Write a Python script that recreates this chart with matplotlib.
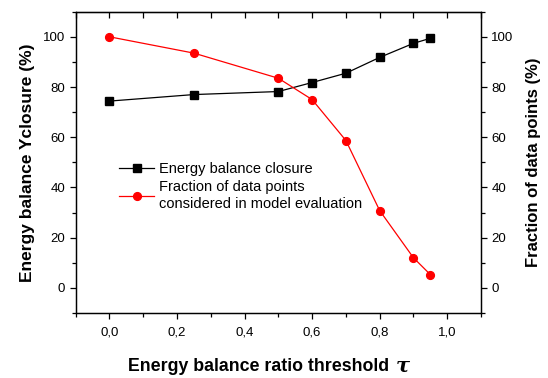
import matplotlib
matplotlib.use("Agg")
import matplotlib.pyplot as plt
from matplotlib.ticker import MultipleLocator, FuncFormatter
from matplotlib.lines import Line2D

plt.rcParams['font.family'] = ['Liberation Sans', 'DejaVu Sans']

thresholds = [0.0, 0.25, 0.5, 0.6, 0.7, 0.8, 0.9, 0.95]
closure = [74.4, 77.0, 78.2, 81.8, 85.5, 91.8, 97.4, 99.4]
fraction = [100.0, 93.5, 83.5, 75.0, 58.7, 30.8, 12.0, 5.3]

label_closure = "Energy balance closure"
label_fraction = "Fraction of data points\nconsidered in model evaluation"
xlabel = "Energy balance ratio threshold"
xlabel_symbol = "τ"
ylabel_left = "Energy balance Yclosure (%)"
ylabel_right = "Fraction of data points (%)"

W, H = 548, 378
fig = plt.figure(figsize=(W / 100, H / 100), dpi=100)
left, right, top, bottom = 75.7, 481, 11.7, 313
ax = fig.add_axes([left / W, 1 - bottom / H, (right - left) / W, (bottom - top) / H])
ax2 = ax.twinx()

ax.plot(thresholds, closure, color='black', marker='s', markersize=5.2, lw=0.9, zorder=3)
ax2.plot(thresholds, fraction, color='red', marker='o', markersize=5.6, lw=0.9, zorder=3)

for a in (ax, ax2):
    a.set_xlim(-0.1, 1.1)
    a.set_ylim(-10, 110)
    a.yaxis.set_major_locator(MultipleLocator(20))
    a.yaxis.set_minor_locator(MultipleLocator(10))
    for s in a.spines.values():
        s.set_linewidth(0.9)

ax.xaxis.set_major_locator(MultipleLocator(0.2))
ax.xaxis.set_minor_locator(MultipleLocator(0.1))
ax.xaxis.set_major_formatter(FuncFormatter(lambda v, p: f"{v:.1f}".replace('.', ',').replace('-0,0', '0,0')))

ax.tick_params(axis='x', which='both', direction='out', top=False, width=0.9, labelsize=9.5, pad=6)
ax.tick_params(axis='x', which='major', length=4)
ax.tick_params(axis='x', which='minor', length=3)
ax.tick_params(axis='y', which='both', direction='out', width=0.9, labelsize=9.5, right=False)
ax.tick_params(axis='y', which='major', length=4)
ax.tick_params(axis='y', which='minor', length=3)
ax2.tick_params(axis='y', which='both', direction='out', width=0.9, labelsize=9.5, left=False)
ax2.tick_params(axis='y', which='major', length=4)
ax2.tick_params(axis='y', which='minor', length=3)

# inward ticks along the top
axt = ax.secondary_xaxis('top')
axt.xaxis.set_major_locator(MultipleLocator(0.1))
axt.tick_params(axis='x', direction='in', length=4, width=0.9, labeltop=False)

ax.set_xlabel(xlabel, fontsize=12.8, fontweight='bold', labelpad=14)
ax.xaxis.label.set_x(0.45)
ax.annotate(xlabel_symbol, xy=(1, 0), xycoords=ax.xaxis.label,
            xytext=(5, 0), textcoords='offset points', ha='left', va='bottom',
            fontfamily='DejaVu Serif', fontstyle='italic', fontweight='bold',
            fontsize=15, annotation_clip=False)
ax.set_ylabel(ylabel_left, fontsize=12.5, fontweight='bold', labelpad=6)
ax2.set_ylabel(ylabel_right, fontsize=12, fontweight='bold', labelpad=9)

handles = [
    Line2D([], [], color='black', marker='s', markersize=5.2, lw=0.9),
    Line2D([], [], color='red', marker='o', markersize=5.6, lw=0.9),
]
leg = ax2.legend(handles, [label_closure, label_fraction], loc='upper left',
                 bbox_to_anchor=(0.108, 0.50), frameon=False, fontsize=10.5,
                 handlelength=2.4, handletextpad=0.3, borderpad=0, borderaxespad=0,
                 labelspacing=0.25)
for t in leg.get_texts():
    t.set_linespacing(1.25)

fig.savefig("out.png", dpi=100)
